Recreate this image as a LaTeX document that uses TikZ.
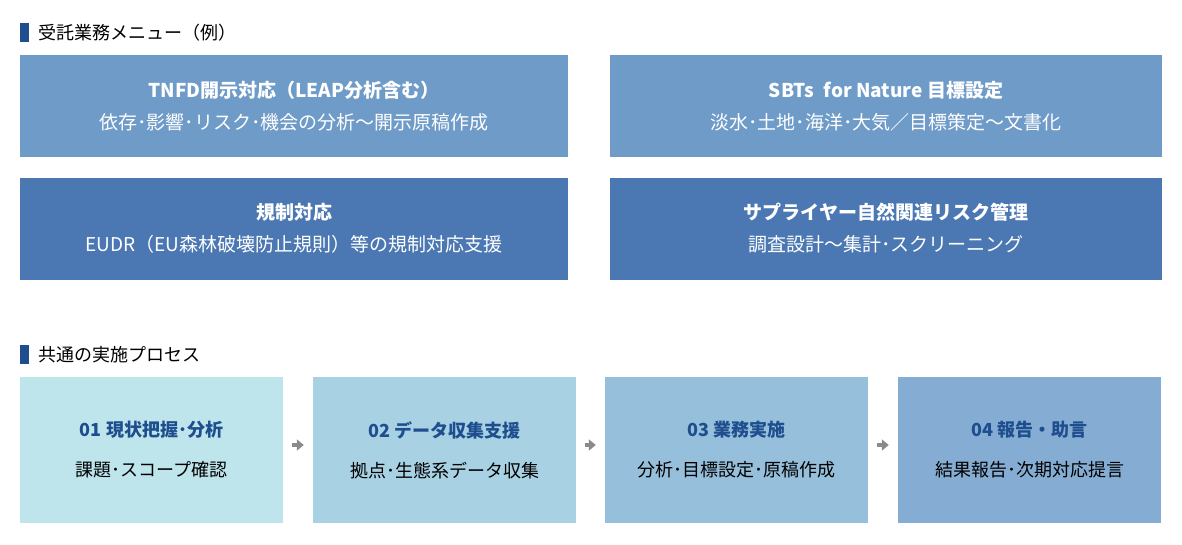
\documentclass[tikz,border=0pt]{standalone}
\usepackage{fontspec}
\setmainfont{Noto Sans CJK JP}
\usetikzlibrary{arrows.meta}
\definecolor{hdr}{HTML}{1F4E8F}
\definecolor{mA}{HTML}{6F9BC8}
\definecolor{mB}{HTML}{4B78B3}
\definecolor{pA}{HTML}{BEE4EC}
\definecolor{pB}{HTML}{A8D1E3}
\definecolor{pC}{HTML}{95BFDB}
\definecolor{pD}{HTML}{85ADD3}
\definecolor{ttl}{HTML}{1F4E8F}
\definecolor{arr}{HTML}{8A8A8A}
\tikzset{
  x=1pt,y=-1pt,
  menubox/.style={minimum width=548pt,minimum height=102pt,inner sep=0pt,text=white,align=center,font=\fontsize{19}{32}\selectfont},
  procbox/.style={minimum width=263pt,minimum height=146pt,inner sep=0pt,align=center,font=\fontsize{18}{40}\selectfont},
  hdrtxt/.style={anchor=west,inner sep=0pt,font=\fontsize{18}{20}\selectfont},
  flow/.style={draw=arr,line width=3.5pt,-{Triangle[length=7pt,width=11pt]},shorten <=9pt,shorten >=9pt}
}
\begin{document}
\begin{tikzpicture}
\useasboundingbox (0,0) rectangle (1182,544);
\fill[hdr] (20,23) rectangle (29,42);
\node[hdrtxt] (h1) at (38,33) {受託業務メニュー（例）};
\node[menubox,fill=mA,minimum width=548pt] (m1) at (294,106) {\textbf{TNFD開示対応（LEAP分析含む）}\\依存･影響･リスク･機会の分析〜開示原稿作成};
\node[menubox,fill=mA,minimum width=552pt] (m2) at (886,106) {\textbf{SBTs\enspace for Nature 目標設定}\\淡水･土地･海洋･大気／目標策定〜文書化};
\node[menubox,fill=mB,minimum width=548pt] (m3) at (294,228.5) {\textbf{規制対応}\\EUDR（EU森林破壊防止規則）等の規制対応支援};
\node[menubox,fill=mB,minimum width=552pt] (m4) at (886,228.5) {\textbf{サプライヤー自然関連リスク管理}\\調査設計〜集計･スクリーニング};
\fill[hdr] (20,345) rectangle (29,364);
\node[hdrtxt] (h2) at (38,355) {共通の実施プロセス};
\node[procbox,fill=pA] (p1) at (151.5,450) {\textcolor{ttl}{\textbf{01 現状把握･分析}}\\課題･スコープ確認};
\node[procbox,fill=pB] (p2) at (444.5,450) {\textcolor{ttl}{\textbf{02 データ収集支援}}\\拠点･生態系データ収集};
\node[procbox,fill=pC] (p3) at (736.5,450) {\textcolor{ttl}{\textbf{03 業務実施}}\\分析･目標設定･原稿作成};
\node[procbox,fill=pD] (p4) at (1029.5,450) {\textcolor{ttl}{\textbf{04 報告・助言}}\\結果報告･次期対応提言};
\draw[flow] ([yshift=5pt]p1.east) -- ([yshift=5pt]p2.west);
\draw[flow] ([yshift=5pt]p2.east) -- ([yshift=5pt]p3.west);
\draw[flow] ([yshift=5pt]p3.east) -- ([yshift=5pt]p4.west);
\end{tikzpicture}
\end{document}
